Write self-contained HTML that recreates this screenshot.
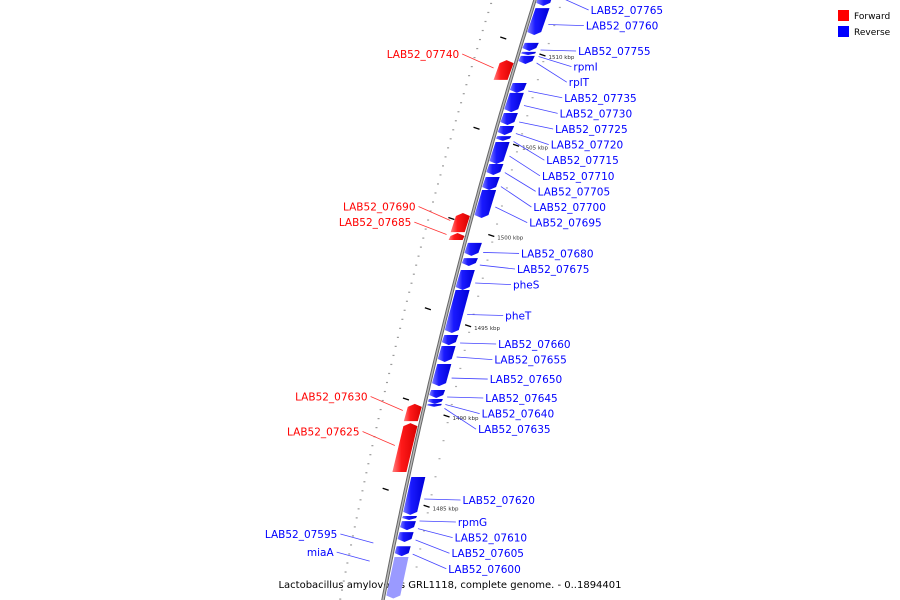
<!DOCTYPE html>
<html><head><meta charset="utf-8"><style>
body{margin:0;background:#fff}
svg{display:block;font-family:"DejaVu Sans","Liberation Sans",sans-serif}
</style></head><body>
<svg id="map" width="900" height="600" viewBox="0 0 900 600">
<defs>
<linearGradient id="gb" x1="0" x2="1" y1="0" y2="0"><stop offset="0" stop-color="#8080ff"/><stop offset="0.35" stop-color="#1a1aff"/><stop offset="1" stop-color="#0000d8"/></linearGradient>
<linearGradient id="gr" x1="0" x2="1" y1="0" y2="0"><stop offset="0" stop-color="#ff8080"/><stop offset="0.35" stop-color="#ff1a1a"/><stop offset="1" stop-color="#d80000"/></linearGradient>
</defs>
<g id="legend">
<rect x="838" y="10" width="11" height="11" fill="#f00"/>
<text x="854" y="19" font-size="9">Forward</text>
<rect x="838" y="26" width="11" height="11" fill="#00f"/>
<text x="854" y="35" font-size="9">Reverse</text>
</g>
<text x="450" y="588" font-size="10" text-anchor="middle">Lactobacillus amylovorus GRL1118, complete genome. - 0..1894401</text>
</svg>
<script>
const geneLabels=["LAB52_07765","LAB52_07760","LAB52_07755","rpmI","rplT","LAB52_07735","LAB52_07730","LAB52_07725","LAB52_07720","LAB52_07715","LAB52_07710","LAB52_07705","LAB52_07700","LAB52_07695","LAB52_07680","LAB52_07675","pheS","pheT","LAB52_07660","LAB52_07655","LAB52_07650","LAB52_07645","LAB52_07640","LAB52_07635","LAB52_07620","rpmG","LAB52_07610","LAB52_07605","LAB52_07600","","LAB52_07740","LAB52_07690","LAB52_07685","LAB52_07630","LAB52_07625"];
const geneStart=[1514.27,1512.71,1510.78,1510.28,1510.06,1508.56,1508.01,1506.90,1506.18,1505.62,1505.29,1504.07,1503.35,1502.63,1499.70,1498.86,1498.20,1497.09,1494.60,1493.99,1492.99,1491.55,1491.05,1490.78,1486.73,1484.57,1484.29,1483.68,1482.90,1482.30,1509.83,1501.36,1500.25,1490.78,1489.72];
const geneEnd=[1512.83,1511.22,1510.33,1510.11,1509.61,1508.01,1506.95,1506.23,1505.68,1505.35,1504.07,1503.46,1502.63,1501.08,1498.98,1498.42,1497.09,1494.71,1494.04,1493.10,1491.77,1491.11,1490.78,1490.62,1484.63,1484.35,1483.79,1483.13,1482.35,1480.00,1508.73,1500.30,1499.86,1489.83,1487.01];
const geneStrand=["-","-","-","-","-","-","-","-","-","-","-","-","-","-","-","-","-","-","-","-","-","-","-","-","-","-","-","-","-","-","+","+","+","+","+"];
const leftLabels=["LAB52_07595","miaA"];
const leftLabelKbp=[1483.35,1482.35];
const tickKbp=[1510,1505,1500,1495,1490,1485];
const tickLabels=["1510 kbp","1505 kbp","1500 kbp","1495 kbp","1490 kbp","1485 kbp"];

const svg=document.getElementById('map');
const NS='http://www.w3.org/2000/svg';
const Y=k=>57+(1510-k)*18.05;
const LX=y=>535-0.3128*y+0.000099*y*y;
function mk(t,a,p){const e=document.createElementNS(NS,t);for(const k in a)e.setAttribute(k,a[k]);(p||svg).appendChild(e);return e;}

// backbone
let d='';for(let y=-5;y<=605;y+=5){d+=(y===-5?'M':'L')+LX(y).toFixed(1)+' '+y;}
const bb=mk('path',{d:d,stroke:'#666',"stroke-width":3.4,fill:'none'});


const bb2=mk('path',{d:d,stroke:'#bbb',"stroke-width":1.4,fill:'none'});



// dots (scale marks)
for(let k=1514;k>=1480;k-=0.5){const y=Y(k);if(y<0||y>600)continue;
 const c=mk('rect',{x:LX(y)-44,y:y,width:2,height:1.2,fill:'#999'});
 
 }
for(let k=1514;k>=1480;k-=1){const y=Y(k)+4;if(y<0||y>600)continue;
 const c=mk('rect',{x:LX(y)+26,y:y,width:2,height:1.2,fill:'#aaa'});
 
 }

// ticks
tickKbp.forEach((k,i)=>{const y=Y(k);
 const t=mk('line',{x1:LX(y)+22,y1:y-3,x2:LX(y)+28,y2:y-1,stroke:'#000',"stroke-width":1.3});
 
 
 const yl=y-19;
 const t2=mk('line',{x1:LX(yl)-23,y1:yl-1,x2:LX(yl)-17,y2:yl+1,stroke:'#000',"stroke-width":1.3});
 
 
 const tx=mk('text',{x:LX(y)+31,y:y+2,"font-size":5.5,fill:'#333'});tx.textContent=tickLabels[i];
 
 });

// genes
let prevY=-100, prevL=-100;
geneLabels.forEach((lab,i)=>{
 const y0=Y(geneStart[i]),y1=Y(geneEnd[i]),rev=geneStrand[i]==='-';
 const h=Math.min(3,(y1-y0)/2);
 const a=rev?3:-17,b=rev?17:-3;
 const x0=LX(y0),x1=LX(y1),xm=LX((y0+y1)/2);
 let pts;
 if(rev) pts=[[x0+a,y0],[x0+b,y0],[x1+b,y1-h],[x1+(a+b)/2,y1],[x1+a,y1-h]];
 else pts=[[x0+(a+b)/2,y0],[x0+b,y0+h],[x1+b,y1],[x1+a,y1],[x0+a,y0+h]];
 const g=mk('polygon',{points:pts.map(p=>p[0].toFixed(1)+','+p[1].toFixed(1)).join(' '),fill:rev?(i===29?'#9a9aff':'url(#gb)'):'url(#gr)'});
 
 
 if(!lab)return;
 const my=(y0+y1)/2;
 if(rev){
  let ly=Math.max(my+8,prevY+15.6,14);prevY=ly;
  const lx=LX(ly)+60;
  const l=mk('line',{x1:xm+20,y1:my+3,x2:lx-2,y2:ly-4,stroke:'#4444ff',"stroke-width":0.8});
  
  
  const t=mk('text',{x:lx,y:ly,"font-size":10.5,fill:'#00f'});t.textContent=lab;
  
  
 } else {
  let ly=Math.max(my-12,prevL+15.6);prevL=ly;
  const lx=LX(ly)-58;
  const l=mk('line',{x1:lx+3,y1:ly-4,x2:xm-20,y2:my-2,stroke:'#ff3333',"stroke-width":0.8});
  
  
  const t=mk('text',{x:lx,y:ly,"font-size":10.5,fill:'#f00',"text-anchor":'end'});t.textContent=lab;
  
  
 }
});
leftLabels.forEach((lab,i)=>{
 const ly=Y(leftLabelKbp[i]);const lx=LX(ly)-58;
 const l=mk('line',{x1:lx+3,y1:ly-4,x2:LX(ly)-22,y2:ly+5,stroke:'#4444ff',"stroke-width":0.8});
 
 
 const t=mk('text',{x:lx,y:ly,"font-size":10.5,fill:'#00f',"text-anchor":'end'});t.textContent=lab;
 
 
});
</script>
</body></html>
